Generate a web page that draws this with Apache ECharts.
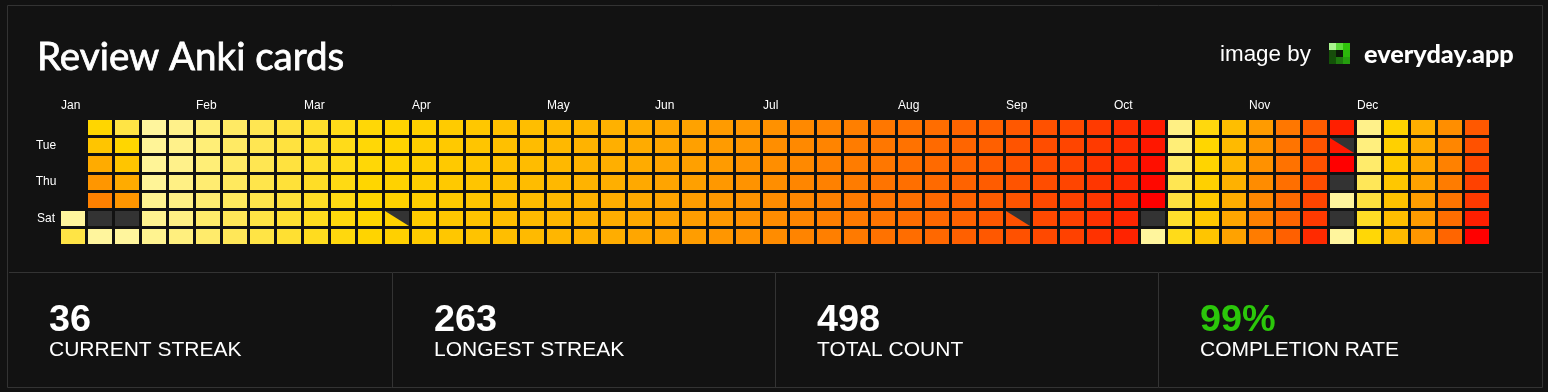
<!DOCTYPE html>
<html><head><meta charset="utf-8">
<script src="https://cdn.jsdelivr.net/npm/echarts@6/dist/echarts.min.js"></script>
<style>html,body{margin:0;padding:0;background:#121212}#c{width:1548px;height:392px}</style>
</head><body><div id="c"></div>
<script>
const titleText = 'Review Anki cards';
const creditText = 'image by';
const brandText = 'everyday.app';
const weekdayLabels = ['', 'Tue', '', 'Thu', '', 'Sat', ''];
const monthLabels = ['Jan','Feb','Mar','Apr','May','Jun','Jul','Aug','Sep','Oct','Nov','Dec'];
const monthWeeks = [0,5,9,13,18,22,26,31,35,39,44,48];
const statValues = ['36','263','498','99%'];
const statNames = ['CURRENT STREAK','LONGEST STREAK','TOTAL COUNT','COMPLETION RATE'];

// colour level (0 = palest, 100 = red) of each week's cell
const mon = [null,25,14,0,3,6,9,12,15,18,21,24,26,28,30,32,35,36,38,40,42,44,47,49,52,54,56,59,61,63,66,68,70,73,75,77,79,81,85,88,93,4,23,36,52,66,76,92,3,26,43,57,77];
const tue = [null,33,25,1,3,6,9,12,15,18,21,24,26,29,31,33,35,37,39,41,43,45,47,50,52,54,57,59,61,64,66,68,71,73,75,78,80,82,85,88,94,6,25,38,54,67,78,94,5,28,45,60,79];
const wed = [null,45,33,1,3,6,9,12,15,18,21,24,27,29,31,33,35,37,39,41,43,45,48,50,52,55,57,59,62,64,66,69,71,73,76,78,80,82,86,89,96,9,26,40,56,68,79,100,8,30,47,62,81];
const thu = [null,54,45,1,4,7,10,13,16,19,22,25,27,29,31,33,35,37,39,41,43,46,48,50,53,55,57,60,62,64,67,69,71,74,76,78,80,82,86,89,98,12,28,42,58,69,80,null,11,32,49,64,83];
const fri = [null,62,54,2,4,7,10,13,16,19,22,25,27,29,31,33,36,37,39,41,44,46,48,51,53,55,58,60,62,65,67,69,72,74,76,78,81,83,86,90,100,15,30,44,60,71,82,0,15,34,51,67,85];
const sat = [0,null,null,2,4,8,11,14,17,20,23,25,27,30,32,34,36,38,40,42,44,46,49,51,53,56,58,60,63,65,67,70,72,74,77,79,81,83,87,90,null,18,31,47,62,73,85,null,19,36,52,70,92];
const sun = [14,0,0,2,5,8,11,14,17,20,23,26,28,30,32,34,36,38,40,42,44,47,49,51,54,56,58,61,63,65,68,70,72,75,77,79,81,83,87,91,0,21,33,49,64,75,89,0,24,38,54,73,100];
const missedCells = [[1,5],[2,5],[40,5],[47,3],[47,5]];
const partialCells = [[12,5],[35,5],[47,1]];
const rampColors = ['#FFF59D','#FFD600','#FFA000','#FF6000','#FF0000'];

const weekRows = [mon,tue,wed,thu,fri,sat,sun];
const cellData = [];
weekRows.forEach((row, r) => row.forEach((v, w) => { if (v !== null) cellData.push([w, r, v]); }));

const BG = '#121212', BORDER = '#333333', EMPTY = '#333333';
function cellRect(api) {
  const c = api.coord([api.value(0), api.value(1)]);
  const s = api.size([1, 1]);
  const x0 = Math.round(c[0] - s[0] / 2 + 1.5);
  const y0 = Math.round(c[1] - s[1] / 2 + 1.5);
  const x1 = Math.round(c[0] + s[0] / 2 - 1.5);
  const y1 = Math.round(c[1] + s[1] / 2 - 1.35);
  return { x: x0, y: y0, width: x1 - x0, height: y1 - y0 };
}
const chart = echarts.init(document.getElementById('c'), null, { renderer: 'canvas' });
const font = 'Liberation Sans';
const statX = [49, 434, 817, 1200];
const logoColors = ['#A9F58F','#5CDB3A','#2FC40A','#174D0B','#0B1A08','#2BB80B','#135208','#1E7A0E','#259E0E'];

const graphics = [
  { type:'rect', silent:true, shape:{x:7.5,y:5.5,width:1535,height:382}, style:{fill:'transparent',stroke:BORDER,lineWidth:1} },
  { type:'line', silent:true, shape:{x1:9,y1:272.5,x2:1542,y2:272.5}, style:{stroke:BORDER,lineWidth:1} },
  { type:'text', x:1220, y:55, style:{text:creditText,fill:'#fff',fontFamily:font,fontSize:22.4,verticalAlign:'middle'} },
  { type:'text', x:1364, y:54.5, style:{text:brandText,fill:'#fff',fontFamily:'Lato',fontWeight:900,fontSize:25.3,verticalAlign:'middle'} }
];
[392,775,1158].forEach(x => graphics.push({ type:'line', silent:true, shape:{x1:x+.5,y1:273,x2:x+.5,y2:387}, style:{stroke:BORDER,lineWidth:1} }));
logoColors.forEach((col,i) => graphics.push({ type:'rect', silent:true, shape:{x:1329+(i%3)*7,y:43+Math.floor(i/3)*7,width:7,height:7}, style:{fill:col} }));
statValues.forEach((v,i) => {
  graphics.push({ type:'text', x:statX[i], y:321, style:{text:v,fill:i===3?'#2BC70A':'#fff',fontFamily:font,fontWeight:700,fontSize:37.8,verticalAlign:'middle'} });
  graphics.push({ type:'text', x:statX[i], y:350, style:{text:statNames[i],fill:'#fff',fontFamily:font,fontSize:21,verticalAlign:'middle'} });
});

chart.setOption({
  animation:false,
  backgroundColor:BG,
  title:{ text:titleText, left:37, top:38, padding:0, textStyle:{ color:'#fff', fontFamily:'Lato', fontWeight:400, fontSize:38.5, textBorderColor:'#fff', textBorderWidth:0.8 } },
  grid:{ left:59.5, top:118.5, width:1431, height:127.17 },
  xAxis:{ type:'category', position:'top', data:Array.from({length:53},(_,w)=>{const i=monthWeeks.indexOf(w);return i<0?'':monthLabels[i];}),
    axisLine:{show:false}, axisTick:{show:false}, splitLine:{show:false},
    axisLabel:{ interval:0, color:'#fff', fontFamily:font, fontSize:12, align:'left', padding:[0,0,0,-12], margin:7 } },
  yAxis:{ type:'category', inverse:true, data:weekdayLabels.map((l,i)=>({value:l||(' '.repeat(i+1))})),
    axisLine:{show:false}, axisTick:{show:false}, splitLine:{show:false},
    axisLabel:{ interval:0, color:'#fff', fontFamily:font, fontSize:12, align:'center', margin:13.5 } },
  visualMap:{ show:false, type:'continuous', min:0, max:100, dimension:2, seriesIndex:0, inRange:{color:rampColors} },
  series:[
    { type:'custom', data:cellData, encode:{x:0,y:1}, silent:true,
      renderItem:(p,api)=>({ type:'rect', shape:cellRect(api), style:{fill:api.visual('color')} }) },
    { type:'custom', data:missedCells, encode:{x:0,y:1}, silent:true,
      renderItem:(p,api)=>({ type:'rect', shape:cellRect(api), style:{fill:EMPTY} }) },
    { type:'custom', data:partialCells, encode:{x:0,y:1}, silent:true,
      renderItem:(p,api)=>{ const r=cellRect(api); return { type:'polygon',
        shape:{points:[[r.x,r.y],[r.x+r.width,r.y],[r.x+r.width,r.y+r.height]]}, style:{fill:EMPTY} }; } }
  ],
  graphic:graphics
});
</script></body></html>
